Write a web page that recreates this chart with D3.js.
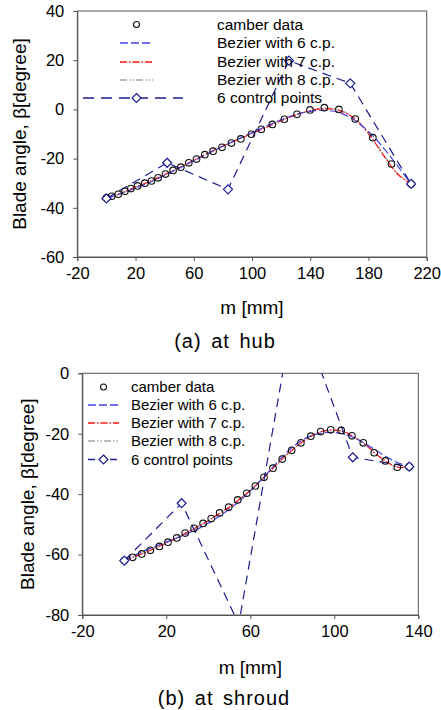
<!DOCTYPE html>
<html>
<head>
<meta charset="utf-8">
<script src="https://cdn.jsdelivr.net/npm/d3@7"></script>
<style>
  body { margin: 0; background: #fff; }
  svg { font-family: "Liberation Sans", Arial, sans-serif; }
  .axis path, .axis line { stroke: #555; }
  .axis text { font-size: 16.5px; fill: #000; }
</style>
</head>
<body>
<div id="chart"></div>
<script>
// ---- data: (a) at hub ----
var hubCamberM = [0, 3.6, 8.1, 12.7, 16.8, 21.4, 26.4, 31, 35.5, 40.6, 45.8, 51.1, 56.6, 61.9, 67.6, 73.3,
  79.4, 85.9, 92.3, 99.6, 106.4, 114, 122.2, 130.9, 139.8, 149.7, 159.7, 170.9, 183, 195.8, 209.3];
var hubCamberB = [-36, -35.3, -34.5, -33.3, -32.2, -31.1, -30, -29.1, -27.8, -26.3, -24.8, -23.5, -21.7, -20.2, -18.4, -17,
  -15.4, -13.7, -12, -10.1, -8.1, -6.1, -4, -2, -0.2, 0.7, 0, -3.9, -11.5, -22.2, -30.3];
var hubCurveM = [0, 10, 20, 30, 40, 50, 60, 70, 80, 90, 100, 110, 120, 130, 140, 150, 160, 170, 180, 190, 200, 209.3];
var hubBez6 = [-36.2, -34.2, -32.0, -29.6, -26.8, -23.9, -20.9, -17.9, -15.0, -12.2, -9.5, -6.8, -4.2, -2.1, -0.8, -0.4, -1.3, -4.2, -9.0, -15.4, -23.0, -30.3];
var hubBez7 = [-36.2, -34.1, -31.6, -29.2, -26.5, -23.7, -20.7, -17.7, -14.9, -12.3, -9.8, -7.2, -4.6, -2.3, -0.5, 0.3, -0.5, -3.6, -9.8, -18.4, -26.3, -30.3];
var hubBez8 = [-36.2, -34.0, -31.7, -29.3, -26.6, -23.8, -20.8, -17.8, -15.0, -12.3, -9.7, -7.1, -4.5, -2.2, -0.4, 0.5, -0.2, -3.3, -9.5, -18.0, -26.0, -30.3];
var hubCtrlM = [0, 41.7, 83.5, 125.4, 167.5, 209.3];
var hubCtrlB = [-36.2, -21.7, -32.5, 19.8, 10.6, -30.3];
var hubXTicks = [-20, 20, 60, 100, 140, 180, 220];
var hubYTicks = [40, 20, 0, -20, -40, -60];

// ---- data: (b) at shroud ----
var shrCamberM = [0, 4, 8.3, 12.4, 16.7, 20.8, 25, 29, 33.2, 37.5, 41.4, 45.4, 49.7, 54, 58.3, 62.4,
  66.5, 70.8, 75.2, 79.7, 84.1, 88.8, 93.5, 98.3, 103.3, 108.4, 113.8, 119, 124.3, 130, 135.7];
var shrCamberB = [-62, -60.9, -59.8, -58.6, -57.3, -55.9, -54.5, -52.9, -51.3, -49.7, -48.1, -46.2, -44.3, -41.9, -39.7, -37.3,
  -34.4, -31.4, -28.4, -25.5, -23, -20.8, -19.3, -18.7, -18.9, -20.7, -23, -26.3, -29, -31.1, -30.9];
var shrCurveM = [0, 5, 10, 15, 20, 25, 30, 35, 40, 45, 50, 55, 60, 65, 70, 75, 80, 85, 90, 95, 100, 105, 110, 115, 120, 125, 130, 135.7];
var shrBez6 = [-62, -60.2, -58.6, -57.2, -55.8, -54.5, -53.1, -51.5, -49.6, -47.4, -45, -42.2, -39, -35.4, -31.6, -27.8,
  -24.5, -22, -20.4, -19.7, -19.6, -20.2, -21.5, -23.4, -25.6, -27.7, -29.5, -30.9];
var shrBez7 = [-62, -60.6, -59.3, -57.8, -56.2, -54.5, -52.6, -50.8, -48.8, -46.6, -44.3, -41.6, -38.8, -35.5, -32, -28.5,
  -25.4, -22.6, -20.4, -19.1, -18.8, -19.4, -21.4, -23.7, -26.8, -29.3, -31.1, -30.9];
var shrBez8 = [-62, -60.7, -59.2, -57.7, -56.1, -54.4, -52.6, -50.7, -48.7, -46.5, -44.2, -41.5, -38.7, -35.4, -31.9, -28.4,
  -25.3, -22.5, -20.3, -19.0, -18.8, -19.5, -21.3, -23.8, -26.7, -29.4, -31.0, -30.9];
var shrCtrlM = [0, 27.3, 54.5, 81.4, 108.8, 135.7];
var shrCtrlB = [-62, -43, -83, 23.7, -27.8, -30.9];
var shrXTicks = [-20, 20, 60, 100, 140];
var shrYTicks = [0, -20, -40, -60, -80];

var legendNames = ["camber data", "Bezier with 6 c.p.", "Bezier with 7 c.p.", "Bezier with 8 c.p.", "6 control points"];

var svg = d3.select("#chart").append("svg")
  .attr("width", 441)
  .attr("height", 710);

var styles = {
  bez6: { color: "#4444e4", dash: "8,3" },
  bez7: { color: "#ff1010", dash: "7,2,1.5,2" },
  bez8: { color: "#a8a8a8", dash: "7,2,1.5,2,1.5,2" },
  ctrl: { color: "#1c1c90", dash: "9,6" }
};

function zip(xs, ys) {
  return xs.map(function(x, i) { return [x, ys[i]]; });
}

function diamond(g, x, y, color) {
  g.append("path")
    .attr("d", "M" + x + "," + (y - 4.5) + "L" + (x + 4.5) + "," + y + "L" + x + "," + (y + 4.5) + "L" + (x - 4.5) + "," + y + "Z")
    .attr("fill", "white")
    .attr("stroke", color)
    .attr("stroke-width", 1.2);
}

function drawPanel(cfg) {
  var g = svg.append("g").attr("transform", "translate(" + cfg.left + "," + cfg.top + ")");
  var w = cfg.width, h = cfg.height;

  var x = d3.scaleLinear().domain(cfg.xDomain).range([0, w]);
  var y = d3.scaleLinear().domain(cfg.yDomain).range([h, 0]);

  // frame
  g.append("rect").attr("width", w).attr("height", h)
    .attr("fill", "none").attr("stroke", "#555").attr("stroke-width", 1);

  // plain hyphen for negatives, like the original
  var fmt = function(d) { return String(d); };
  g.append("g").attr("class", "axis")
    .call(d3.axisLeft(y).tickValues(cfg.yTicks).tickSize(4).tickPadding(9).tickFormat(fmt));
  g.append("g").attr("class", "axis")
    .attr("transform", "translate(0," + h + ")")
    .call(d3.axisBottom(x).tickValues(cfg.xTicks).tickSize(4).tickPadding(6).tickFormat(fmt));

  var clipId = "clip-" + cfg.id;
  g.append("clipPath").attr("id", clipId)
    .append("rect").attr("width", w).attr("height", h);
  var plot = g.append("g").attr("clip-path", "url(#" + clipId + ")");

  var smooth = d3.line().x(function(d) { return x(d[0]); }).y(function(d) { return y(d[1]); })
    .curve(d3.curveCatmullRom);
  var straight = d3.line().x(function(d) { return x(d[0]); }).y(function(d) { return y(d[1]); });

  // Bezier fits
  [["bez8", cfg.bez8], ["bez7", cfg.bez7], ["bez6", cfg.bez6]].forEach(function(s) {
    plot.append("path")
      .datum(zip(cfg.curveM, s[1]))
      .attr("d", smooth)
      .attr("fill", "none")
      .attr("stroke", styles[s[0]].color)
      .attr("stroke-width", 1.2)
      .attr("stroke-dasharray", styles[s[0]].dash);
  });

  // control polygon
  plot.append("path")
    .datum(zip(cfg.ctrlM, cfg.ctrlB))
    .attr("d", straight)
    .attr("fill", "none")
    .attr("stroke", styles.ctrl.color)
    .attr("stroke-width", 1.2)
    .attr("stroke-dasharray", styles.ctrl.dash);

  // camber data
  plot.selectAll("circle.cam")
    .data(zip(cfg.camberM, cfg.camberB))
    .enter()
    .append("circle")
    .attr("class", "cam")
    .attr("cx", function(d) { return x(d[0]); })
    .attr("cy", function(d) { return y(d[1]); })
    .attr("r", 3.3)
    .attr("fill", "none")
    .attr("stroke", "#111")
    .attr("stroke-width", 1.1);

  zip(cfg.ctrlM, cfg.ctrlB).forEach(function(d) {
    if (d[1] >= cfg.yDomain[0] && d[1] <= cfg.yDomain[1]) diamond(plot, x(d[0]), y(d[1]), styles.ctrl.color);
  });

  // legend
  var lg = cfg.legend;
  var leg = svg.append("g").style("font-size", lg.font + "px");
  legendNames.forEach(function(name, i) {
    var yy = lg.rows[i];
    leg.append("text").attr("x", lg.textX).attr("y", yy).attr("dy", "0.35em").text(name);
    var mid = (lg.x0 + lg.x1) / 2;
    if (i === 0) {
      leg.append("circle").attr("cx", mid).attr("cy", yy).attr("r", 3)
        .attr("fill", "none").attr("stroke", "#111").attr("stroke-width", 1.1);
    } else if (i < 4) {
      var st = styles[["bez6", "bez7", "bez8"][i - 1]];
      leg.append("line").attr("x1", lg.x0).attr("x2", lg.x1).attr("y1", yy).attr("y2", yy)
        .attr("stroke", st.color).attr("stroke-width", 1.5).attr("stroke-dasharray", st.dash);
    } else {
      leg.append("line").attr("x1", lg.c0).attr("x2", lg.c1).attr("y1", yy).attr("y2", yy)
        .attr("stroke", styles.ctrl.color).attr("stroke-width", 1.5).attr("stroke-dasharray", lg.ctrlDash);
      diamond(leg, mid, yy, styles.ctrl.color);
    }
  });

  // axis titles
  svg.append("text")
    .attr("transform", "translate(" + cfg.yLabelX + "," + (cfg.top + h / 2) + ") rotate(-90)")
    .attr("text-anchor", "middle")
    .attr("dy", "0.35em")
    .style("font-size", "19px")
    .text("Blade angle, β[degree]");
  svg.append("text")
    .attr("x", cfg.left + w / 2)
    .attr("y", cfg.xLabelY)
    .attr("text-anchor", "middle")
    .style("font-size", "19px")
    .text("m [mm]");
  svg.append("text")
    .attr("x", cfg.captionX)
    .attr("y", cfg.captionY)
    .attr("text-anchor", "middle")
    .style("font-size", "20px")
    .style("letter-spacing", "1px")
    .style("word-spacing", "3px")
    .text(cfg.caption);
}

drawPanel({
  id: "hub", left: 77.3, top: 11, width: 349.4, height: 246,
  xDomain: [-20, 220], yDomain: [-60, 40], xTicks: hubXTicks, yTicks: hubYTicks,
  camberM: hubCamberM, camberB: hubCamberB, curveM: hubCurveM,
  bez6: hubBez6, bez7: hubBez7, bez8: hubBez8, ctrlM: hubCtrlM, ctrlB: hubCtrlB,
  legend: { font: 15.5, textX: 217, x0: 120, x1: 153, c0: 83, c1: 183, ctrlDash: "11,7", rows: [24.5, 43, 62, 80, 98] },
  yLabelX: 19, xLabelY: 314, caption: "(a) at hub", captionX: 225, captionY: 348
});

drawPanel({
  id: "shr", left: 82.3, top: 373.3, width: 336, height: 241.7,
  xDomain: [-20, 140], yDomain: [-80, 0], xTicks: shrXTicks, yTicks: shrYTicks,
  camberM: shrCamberM, camberB: shrCamberB, curveM: shrCurveM,
  bez6: shrBez6, bez7: shrBez7, bez8: shrBez8, ctrlM: shrCtrlM, ctrlB: shrCtrlB,
  legend: { font: 15, textX: 131, x0: 88, x1: 119, c0: 88, c1: 119, ctrlDash: "7,4", rows: [387, 405, 423, 441, 459.5] },
  yLabelX: 27, xLabelY: 674, caption: "(b) at shroud", captionX: 224, captionY: 705
});
</script>
</body>
</html>
